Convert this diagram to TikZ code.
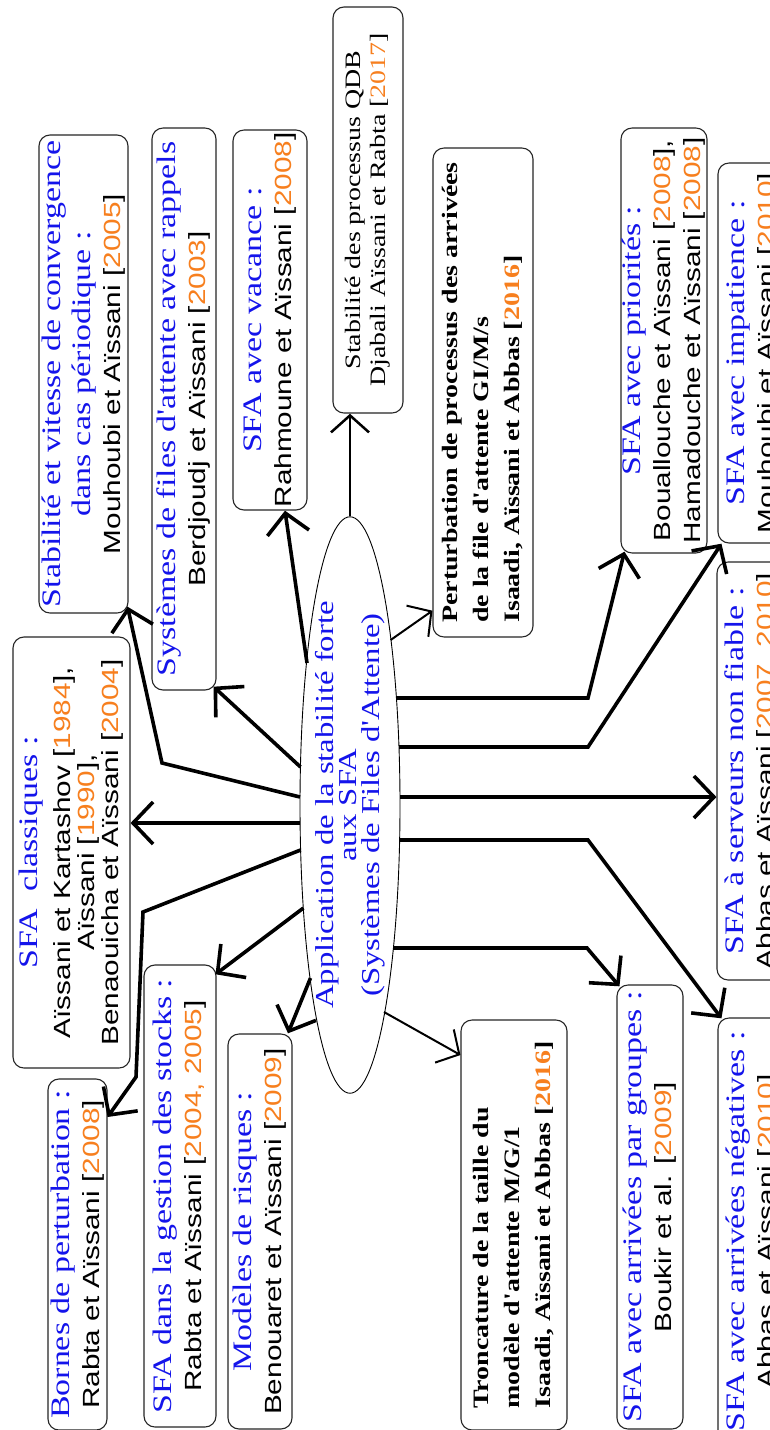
\documentclass[tikz,border=0pt]{standalone}
\usepackage{fontspec}
\setmainfont{Liberation Serif}
\newfontfamily\sansf{Liberation Sans}[Scale=0.876]
\usetikzlibrary{shapes.geometric,arrows.meta,calc}
\definecolor{tblue}{RGB}{20,20,235}
\definecolor{yorange}{RGB}{247,127,30}
\newcommand{\yr}[1]{\textcolor{yorange}{#1}}
\newcommand{\tb}[1]{\textcolor{tblue}{#1}}
\newcommand{\ap}{\textquotesingle}
\begin{document}
\begin{tikzpicture}[x=1pt,y=-1pt,
  box/.style={draw=black!85, line width=1.1pt, rounded corners=11pt, rotate=90, xscale=1.27,
    inner sep=0pt, align=center, font=\fontsize{26.7}{30}\selectfont},
  boldbox/.style={box, align=left, font=\fontsize{22}{31}\selectfont\bfseries},
  ellbox/.style={draw=black, line width=0.9pt, ellipse, rotate=90, xscale=1.27, inner sep=0pt,
    align=center, text=tblue, font=\fontsize{25.8}{22.5}\selectfont},
  thickarr/.style={line width=3.6pt, line join=miter, -{Straight Barb[length=20pt,width=42pt]}},
  thinarr/.style={line width=2pt, -{Straight Barb[length=17pt,width=38pt]}}
]
\useasboundingbox (0,0) rectangle (770,1430);
\clip (0,0) rectangle (770,1430);
\fill[white] (0,0) rectangle (770,1430);

% central ellipse
\node[ellbox, minimum width=444pt, minimum height=100pt] (ell) at (350,805)
  {Application de la stabilité forte\\ aux SFA\\ (Systèmes de Files d\ap Attente)};

% boxes
\node[box, minimum width=376.4pt, minimum height=89pt] (stab) at (83.5,374)
  {\tb{Stabilité et vitesse de convergence}\\ \tb{dans cas périodique :}\\ {\sansf Mouhoubi et Aïssani [\yr{2005}]}};
\node[box, minimum width=442.5pt, minimum height=64pt] (rap) at (184,409)
  {\tb{Systèmes de files d\ap attente avec rappels}\\ {\sansf Berdjoudj et Aïssani [\yr{2003}]}};
\node[box, minimum width=299.2pt, minimum height=74pt] (vac) at (270,320)
  {\tb{SFA avec vacance :}\\ {\sansf Rahmoune et Aïssani [\yr{2008}]}};
\node[box, minimum width=319.7pt, minimum height=70pt, font=\fontsize{22}{25}\selectfont] (qdb) at (368,210)
  {Stabilité des processus QDB\\ Djabali Aïssani et Rabta [\yr{2017}]};
\node[boldbox, minimum width=385pt, minimum height=100pt] (pert) at (483,392.5)
  {Perturbation de processus des arrivées\\ de la file d\ap attente GI/M/s\\ Isaadi, Aïssani et Abbas [\yr{2016}]};
\node[box, minimum width=334.6pt, minimum height=86pt] (prio) at (664,340.5)
  {\tb{SFA avec priorités :}\\ {\sansf Bouallouche et Aïssani [\yr{2008}],}\\ {\sansf Hamadouche et Aïssani [\yr{2008}]}};
\node[box, minimum width=299.2pt, minimum height=70pt] (imp) at (753,353)
  {\tb{SFA avec impatience :}\\ {\sansf Mouhoubi et Aïssani [\yr{2010}]}};
\node[box, minimum width=329.1pt, minimum height=70pt] (serv) at (752,771)
  {\tb{SFA à serveurs non fiable :}\\ {\sansf Abbas et Aïssani [\yr{2007, 2010}]}};
\node[box, minimum width=336.2pt, minimum height=70pt] (neg) at (753,1231.5)
  {\tb{SFA avec arrivées négatives :}\\ {\sansf Abbas et Aïssani [\yr{2010}]}};
\node[box, minimum width=349.6pt, minimum height=66pt] (grp) at (650,1207)
  {\tb{SFA avec arrivées par groupes :}\\ {\sansf Boukir et al. [\yr{2009}]}};
\node[boldbox, minimum width=322.8pt, minimum height=106pt] (tron) at (514,1225)
  {Troncature de la taille du\\ modèle d\ap attente M/G/1\\ Isaadi, Aïssani et Abbas [\yr{2016}]};
\node[box, minimum width=311pt, minimum height=64pt] (risk) at (260,1231.5)
  {\tb{Modèles de risques :}\\ {\sansf Benouaret et Aïssani [\yr{2009}]}};
\node[box, minimum width=363.8pt, minimum height=72pt] (stock) at (180,1196)
  {\tb{SFA dans la gestion des stocks :}\\ {\sansf Rabta et Aïssani [\yr{2004, 2005}]}};
\node[box, minimum width=276.4pt, minimum height=59pt] (born) at (77.5,1254.5)
  {\tb{Bornes de perturbation :}\\ {\sansf Rabta et Aïssani [\yr{2008}]}};
\node[box, minimum width=339.4pt, minimum height=117pt, font=\fontsize{26.7}{24}\selectfont] (cls) at (71.5,852.5)
  {\tb{SFA\ \ classiques :}\\[9pt] {\sansf Aïssani et Kartashov [\yr{1984}],}\\ {\sansf Aïssani [\yr{1990}],}\\ {\sansf Benaouicha et Aïssani [\yr{2004}]}};

% start points on the ellipse
\coordinate (e2) at ($(ell.center)+(-43,-142)$);
\coordinate (e3) at ($(ell.center)+(-49.5,-38)$);
\coordinate (e4) at ($(ell.center)+(-50,-8)$);
\coordinate (e5) at ($(ell.center)+(-50,18)$);
\coordinate (e6) at ($(ell.center)+(-49.4,45)$);
\coordinate (e7) at ($(ell.center)+(-46.6,103)$);
\coordinate (e8) at ($(ell.center)+(-39.5,173)$);
\coordinate (e9) at ($(ell.center)+(34,207)$);
\coordinate (e10) at ($(ell.center)+(43,143)$);
\coordinate (e11) at ($(ell.center)+(49.6,35)$);
\coordinate (e12) at ($(ell.center)+(50,-8)$);
\coordinate (e13) at ($(ell.center)+(49,-58)$);
\coordinate (e14) at ($(ell.center)+(46,-107)$);
\coordinate (e15) at ($(ell.center)+(40.6,-165)$);
% bends
\coordinate (b4) at (162,763);
\coordinate (b6a) at (143,912);
\coordinate (b6b) at (136,1077);
\coordinate (b10) at (587,948);
\coordinate (b11) at (588,840);
\coordinate (b13) at (588,747);
\coordinate (b14) at (588,698);

% connectors
\draw[thinarr, line width=2.5pt] (ell.east) -- (qdb.west -| ell.east);
\draw[thickarr] (e2) -- ($(vac.west)+(15,0)$);
\draw[thickarr] (e3) -- ($(rap.south west)+(-3,-4)$);
\draw[thickarr] (e4) -- (b4) -- ($(stab.south west)+(-1,-7)$);
\draw[thickarr] (e5) -- (cls.south |- e5);
\draw[thickarr] (e6) -- (b6a) -- (b6b) -- ($(born.south)+(0,-137.5)$);
\draw[thickarr] (e7) -- ($(stock.south east)+(-1,10)$);
\draw[thickarr] (e8) -- ($(risk.east)+(28,0)$);
\draw[thinarr] (e9) -- ($(tron.north)+(0,-170)$);
\draw[thickarr] (e10) -- (b10) -- ($(grp.north east)+(3,2)$);
\draw[thickarr] (e11) -- (b11) -- ($(neg.north east)+(4,1)$);
\draw[thickarr] (e12) -- (serv.north |- e12);
\draw[thickarr] (e13) -- (b13) -- ($(imp.north west)+(4,0)$);
\draw[thickarr] (e14) -- (b14) -- ($(prio.north west)+(4,-2)$);
\draw[thinarr] (e15) -- ($(pert.north west)+(0,-27)$);
\end{tikzpicture}
\end{document}
